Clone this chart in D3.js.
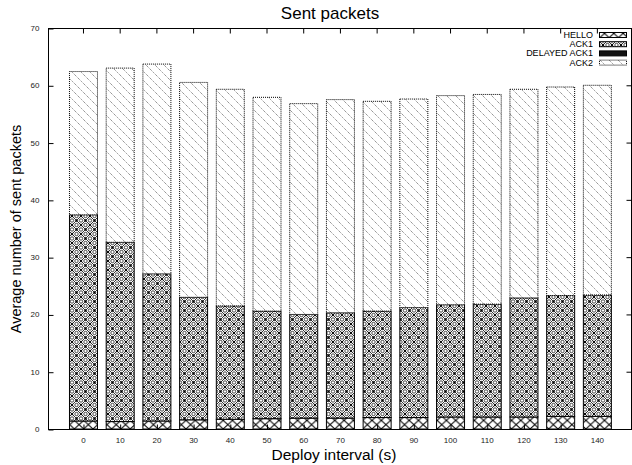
<!DOCTYPE html>
<html><head><meta charset="utf-8">
<script src="https://cdn.jsdelivr.net/npm/d3@7"></script>
<style>body{margin:0;background:#fff}svg{display:block}text{font-family:"Liberation Sans",Arial,sans-serif}</style>
</head><body><svg id="c" width="632" height="465"></svg>
<script>
const categories = [0,10,20,30,40,50,60,70,80,90,100,110,120,130,140];
const seriesNames = ["HELLO","ACK1","DELAYED ACK1","ACK2"];
const hello   = [1.4,1.3,1.4,1.6,1.7,1.8,1.9,1.9,2.0,2.0,2.1,2.1,2.1,2.2,2.2];
const ack1    = [36.0,31.3,25.7,21.4,19.8,18.8,18.1,18.4,18.6,19.2,19.6,19.7,20.8,21.1,21.2];
const delayed = [0,0,0,0,0,0,0,0,0,0,0,0,0,0,0];
const ack2    = [25.0,30.4,36.6,37.5,37.8,37.3,36.8,37.2,36.6,36.4,36.5,36.6,36.4,36.4,36.6];
const yTicks  = [0,10,20,30,40,50,60,70];

const rows = categories.map((c,i)=>({cat:c,i:i,"HELLO":hello[i],"ACK1":ack1[i],"DELAYED ACK1":delayed[i],"ACK2":ack2[i]}));
const svg = d3.select("#c");
const L=48,R=631,T=28,B=429;
const x = d3.scaleLinear().domain([-0.953,14.93]).range([L,R]);
const y = d3.scaleLinear().domain([0,70]).range([B,T]);
const bw = 28;

const defs = svg.append("defs");
// HELLO: big crosshatch
let p = defs.append("pattern").attr("id","p0").attr("patternUnits","userSpaceOnUse").attr("width",9.3).attr("height",8.6).attr("y",B);
p.append("rect").attr("width",9.3).attr("height",8.6).attr("fill","#fff");
p.append("path").attr("d","M0,0L9.3,8.6M9.3,0L0,8.6").attr("stroke","#000").attr("stroke-width",1);
// ACK1: fine crosshatch with circles
p = defs.append("pattern").attr("id","p1").attr("patternUnits","userSpaceOnUse").attr("width",9).attr("height",9);
p.append("rect").attr("width",9).attr("height",9).attr("fill","#fff");
p.append("path").attr("d","M0,0L9,9M9,0L0,9").attr("stroke","#000").attr("stroke-width",0.8);
[[0,0],[9,0],[0,9],[9,9],[4.5,4.5]].forEach(c=>p.append("rect").attr("x",c[0]-1).attr("y",c[1]-1).attr("width",2).attr("height",2).attr("fill","#000").attr("transform",`rotate(45,${c[0]},${c[1]})`));
[[4.5,0],[4.5,9],[0,4.5],[9,4.5]].forEach(c=>p.append("circle").attr("cx",c[0]).attr("cy",c[1]).attr("r",1.7).attr("fill","#fff").attr("stroke","#000").attr("stroke-width",0.7));
// DELAYED ACK1: solid
p = defs.append("pattern").attr("id","p2").attr("patternUnits","userSpaceOnUse").attr("width",4).attr("height",4);
p.append("rect").attr("width",4).attr("height",4).attr("fill","#111");
// ACK2: dotted diagonal lines
p = defs.append("pattern").attr("id","p3").attr("patternUnits","userSpaceOnUse").attr("width",9).attr("height",9);
p.append("rect").attr("width",9).attr("height",9).attr("fill","#fff");
p.append("path").attr("d","M-1,-1L10,10M-1,8L1,10M8,-1L10,1").attr("stroke","#444").attr("stroke-width",0.8).attr("stroke-dasharray","1,1");

const fills = ["url(#p0)","url(#p1)","url(#p2)","url(#p3)"];
const dashes = [null,null,null,"1,1"];

const stack = d3.stack().keys(seriesNames)(rows);
stack.forEach((s,k)=>{
  svg.append("g").selectAll("rect").data(s).join("rect")
    .attr("x",d=>x(d.data.i)-bw/2+0.5).attr("width",bw)
    .attr("y",d=>y(d[1])).attr("height",d=>Math.max(0,y(d[0])-y(d[1])))
    .attr("fill",fills[k]).attr("stroke","#000").attr("stroke-width",1)
    .attr("stroke-dasharray",dashes[k]);
});

// frame
svg.append("rect").attr("x",L+0.5).attr("y",T+0.5).attr("width",R-L).attr("height",B-T)
  .attr("fill","none").attr("stroke","#000").attr("stroke-width",1);

// y axis
const ya = svg.append("g").attr("transform",`translate(${L+0.5},0)`)
  .call(d3.axisLeft(y).tickValues(yTicks).tickSize(-5).tickPadding(9).tickFormat(d3.format("d")));
ya.select(".domain").remove();
ya.selectAll("text").attr("font-size",8).attr("fill","#222");
ya.selectAll("line").attr("transform","translate(0,0.5)");
// right mirror ticks
svg.append("g").selectAll("line").data(yTicks).join("line")
  .attr("x1",R+0.5).attr("x2",R-4.5).attr("y1",d=>y(d)+0.5).attr("y2",d=>y(d)+0.5).attr("stroke","#000");

// x axis
const xa = svg.append("g").attr("transform",`translate(0,${B+0.5})`)
  .call(d3.axisBottom(x).tickValues(d3.range(categories.length)).tickSize(-5).tickPadding(8).tickFormat(i=>categories[i]));
xa.select(".domain").remove();
xa.selectAll("text").attr("font-size",8).attr("fill","#222");
xa.selectAll("line").attr("transform","translate(0.5,0)");
// top mirror ticks
svg.append("g").selectAll("line").data(d3.range(categories.length)).join("line")
  .attr("x1",i=>x(i)+0.5).attr("x2",i=>x(i)+0.5).attr("y1",T+0.5).attr("y2",T+5.5).attr("stroke","#000");

// titles
svg.append("text").attr("x",330).attr("y",19).attr("text-anchor","middle").attr("font-size",17).text("Sent packets");
svg.append("text").attr("x",334).attr("y",460).attr("text-anchor","middle").attr("font-size",15.5).text("Deploy interval (s)");
svg.append("text").attr("transform","translate(21,229) rotate(-90)").attr("text-anchor","middle").attr("font-size",14.5).text("Average number of sent packets");

// legend
const lg = svg.append("g");
seriesNames.forEach((n,k)=>{
  const yy = 35 + k*9.2;
  lg.append("text").attr("x",593).attr("y",yy+3).attr("text-anchor","end").attr("font-size",9).text(n);
  lg.append("rect").attr("x",599.5).attr("y",yy-2.5).attr("width",27).attr("height",5)
    .attr("fill",fills[k]).attr("stroke","#000").attr("stroke-width",1).attr("stroke-dasharray",dashes[k]);
});
</script></body></html>
